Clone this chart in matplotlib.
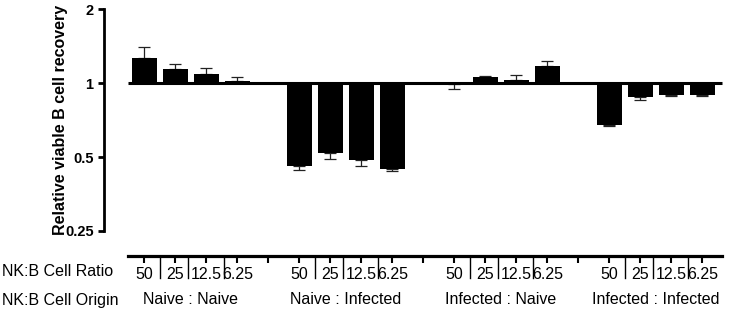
import matplotlib
matplotlib.use("Agg")
import matplotlib.pyplot as plt
import matplotlib.transforms as mtransforms
import numpy as np

plt.rcParams['font.family'] = ['Liberation Sans', 'DejaVu Sans']

# ---- data ----
origins = ["Naive : Naive", "Naive : Infected", "Infected : Naive", "Infected : Infected"]
ratios = ["50", "25", "12.5", "6.25"]
values = [
    [1.27, 1.146, 1.088, 1.022],
    [0.462, 0.519, 0.488, 0.448],
    [0.99, 1.061, 1.03, 1.17],
    [0.677, 0.877, 0.899, 0.899],
]
errors = [
    [0.13, 0.05, 0.07, 0.04],
    [0.017, 0.026, 0.027, 0.011],
    [0.04, 0.005, 0.048, 0.06],
    [0.009, 0.024, 0.008, 0.008],
]
ytick_vals = [0.25, 0.5, 1, 2]
ytick_labels = ["0.25", "0.5", "1", "2"]

W, H = 733, 311
fig = plt.figure(figsize=(W / 100, H / 100), dpi=100)

left = 104 / W
width = 621 / W
ax = fig.add_axes([left, 1 - 231 / H, width, (231 - 9.3) / H])

n_groups = len(origins)
n_bars = len(ratios)
slot = n_bars + 1
positions = []
vals_flat = []
err_lo = []
err_hi = []
for g in range(n_groups):
    for j in range(n_bars):
        positions.append(g * slot + j)
        v = values[g][j]
        e = errors[g][j]
        vals_flat.append(v)
        if v >= 1:
            err_lo.append(0.0)
            err_hi.append(e)
        else:
            err_lo.append(e)
            err_hi.append(0.0)
positions = np.array(positions, dtype=float)
vals_flat = np.array(vals_flat)

ax.set_yscale('log', base=2)
ax.bar(positions, vals_flat - 1, bottom=1, width=0.82, color='black', edgecolor='none', zorder=2)
ax.errorbar(positions, vals_flat, yerr=[err_lo, err_hi], fmt='none', ecolor='#222222',
            elinewidth=0.9, capsize=4.5, capthick=0.9, zorder=1)
ax.hlines(1, positions[0] - 0.52, positions[-1] + 0.62, color='black', lw=2.2, zorder=3)

ax.set_ylim(0.25, 2)
ax.set_xlim(positions[0] - 1.306, positions[-1] + 0.73)
ax.set_yticks(ytick_vals)
ax.set_yticklabels(ytick_labels, fontsize=10.5, fontweight='bold')
ax.minorticks_off()
ax.set_xticks([])
for s in ['top', 'right', 'bottom']:
    ax.spines[s].set_visible(False)
ax.spines['left'].set_linewidth(2)
ax.tick_params(axis='y', length=4, width=2, pad=3.5)
ax.set_ylabel("Relative viable B cell recovery", fontsize=11.5, fontweight='bold')
ax.yaxis.set_label_coords(-0.058, 0.5)
ax.patch.set_visible(False)

# ---- lower category axis ----
line_y = 1 - 255.7 / H
ax2 = fig.add_axes([left, line_y, width, 0.0001])
ax2.set_xlim(ax.get_xlim())
ax2.patch.set_visible(False)
for s in ['top', 'right', 'left']:
    ax2.spines[s].set_visible(False)
ax2.spines['bottom'].set_linewidth(2.3)
ax2.spines['bottom'].set_bounds(positions[0] - 0.52, positions[-1] + 0.62)
ax2.set_yticks([])
gap_pos = [g * slot + n_bars for g in range(n_groups - 1)]
tick_pos = list(positions) + gap_pos
tick_lab = ratios * n_groups + [""] * len(gap_pos)
ax2.set_xticks(tick_pos)
ax2.set_xticklabels(tick_lab, fontsize=11.5)
ax2.tick_params(axis='x', length=5, width=1.5, pad=3)

trans = mtransforms.blended_transform_factory(ax2.transData, fig.transFigure)
sep_offsets = [0.5, 1.42, 2.55]
for g in range(n_groups):
    for o in sep_offsets:
        xs = g * slot + o
        ax2.plot([xs, xs], [line_y, 1 - 278 / H], color='black', lw=1, transform=trans, clip_on=False)
    ax2.text(g * slot + (n_bars - 1) / 2, 1 - 300 / H, origins[g], transform=trans,
             ha='center', va='center', fontsize=11.5)

fig.text(2 / W, 1 - 272 / H, "NK:B Cell Ratio", ha='left', va='center', fontsize=11.5)
fig.text(2 / W, 1 - 300 / H, "NK:B Cell Origin", ha='left', va='center', fontsize=11.5)

fig.savefig("out.png", dpi=100)
